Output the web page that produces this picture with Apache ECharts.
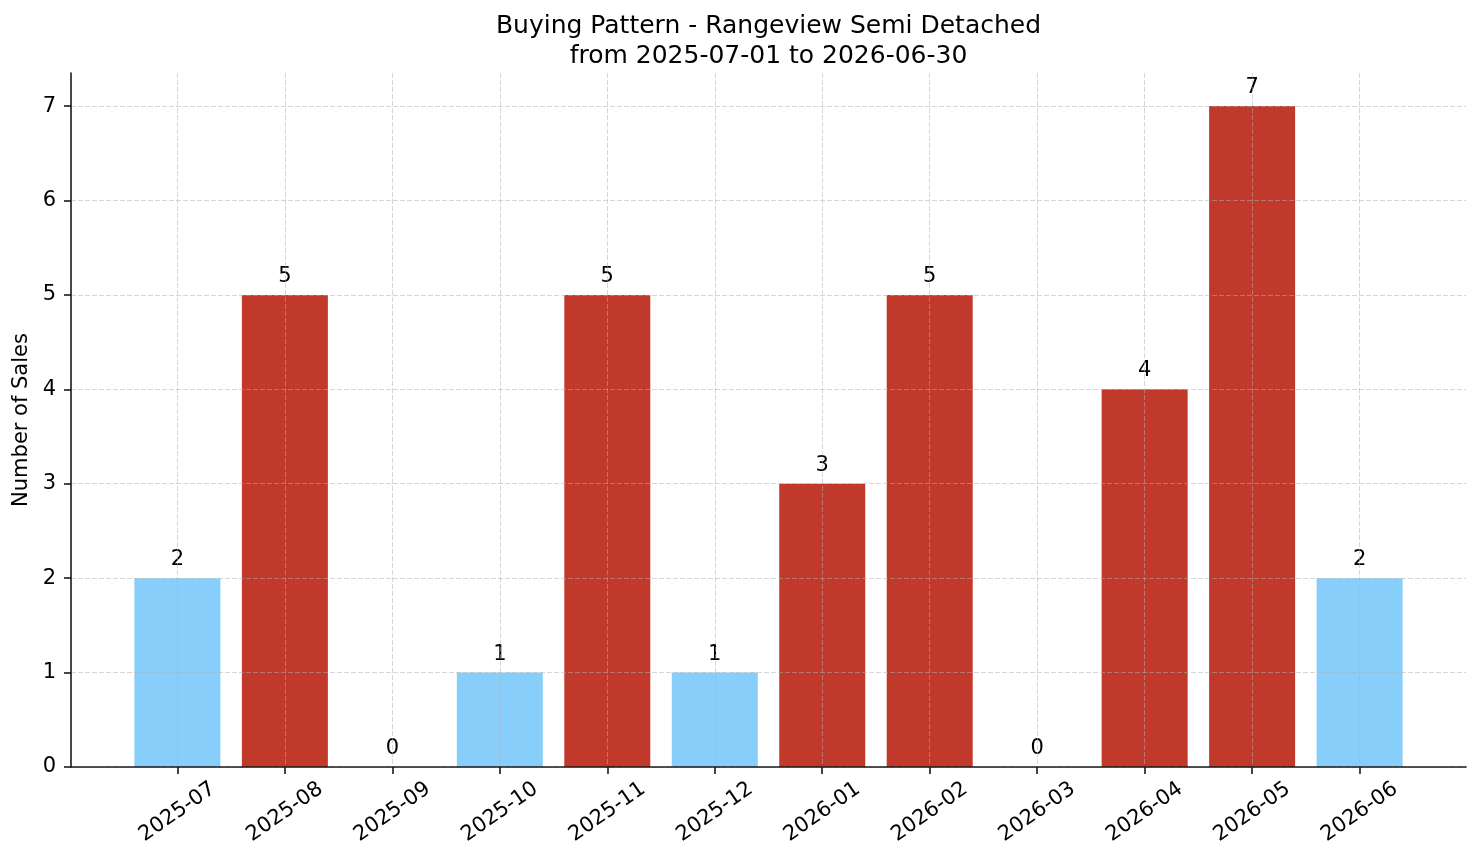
<!DOCTYPE html>
<html>
<head>
<meta charset="utf-8">
<script src="https://cdn.jsdelivr.net/npm/echarts@6/dist/echarts.min.js"></script>
<style>
  html, body { margin: 0; padding: 0; background: #fff; }
  #chart1 { width: 1481px; height: 863px; }
</style>
</head>
<body>
<div id="chart1"></div>
<script>
var months = ['2025-07', '2025-08', '2025-09', '2025-10', '2025-11', '2025-12',
              '2026-01', '2026-02', '2026-03', '2026-04', '2026-05', '2026-06'];
var sales = [2, 5, 0, 1, 5, 1, 3, 5, 0, 4, 7, 2];
var yTicks = [0, 1, 2, 3, 4, 5, 6, 7];

(function(){
    var font = 'DejaVu Sans';
    var idx = months.map(function(m, i){ return i; });

    var barData = sales.map(function(v, i){
        return {
            value: [i, v],
            itemStyle: { color: v >= 3 ? '#c0392b' : '#87cefa' }
        };
    });

    var chart1 = echarts.init(document.getElementById('chart1'));
    var option = {
        animation: false,
        backgroundColor: '#fff',
        // title centred over the plot area (71..1466), not the page
        graphic: [
            {
                type: 'text',
                x: 768.5,
                y: 11,
                style: {
                    text: 'Buying Pattern - Rangeview Semi Detached\nfrom 2025-07-01 to 2026-06-30',
                    fontFamily: font,
                    fontSize: 25,
                    fill: '#000',
                    lineHeight: 30,
                    textAlign: 'center',
                    textVerticalAlign: 'top'
                }
            }
        ],
        grid: {
            left: 71,
            right: 15,
            top: 73,
            bottom: 96
        },
        xAxis: {
            type: 'value',
            min: -0.99,
            max: 11.99,
            z: 3,
            axisLine: { show: true, onZero: false, lineStyle: { color: '#1a1a1a', width: 1.6 } },
            axisTick: {
                show: true,
                customValues: idx,
                length: 7,
                lineStyle: { color: '#1a1a1a', width: 1.6 }
            },
            axisLabel: {
                customValues: idx,
                rotate: 35,
                align: 'center',
                verticalAlign: 'middle',
                fontFamily: font,
                fontSize: 21,
                color: '#000',
                margin: 45,
                formatter: function(v){ return months[Math.round(v)]; }
            },
            splitLine: {
                show: true,
                lineStyle: { color: 'rgba(176,176,176,0.5)', type: [5, 2], width: 1 }
            }
        },
        yAxis: {
            type: 'value',
            min: 0,
            max: 7.35,
            z: 3,
            name: 'Number of Sales',
            nameLocation: 'middle',
            nameGap: 38,
            nameTextStyle: { fontFamily: font, fontSize: 21, color: '#000' },
            axisLine: { show: true, onZero: false, lineStyle: { color: '#1a1a1a', width: 1.6 } },
            axisTick: {
                show: true,
                customValues: yTicks,
                length: 7,
                lineStyle: { color: '#1a1a1a', width: 1.6 }
            },
            axisLabel: {
                customValues: yTicks,
                fontFamily: font,
                fontSize: 21,
                color: '#000',
                margin: 15
            },
            splitLine: {
                show: true,
                lineStyle: { color: 'rgba(176,176,176,0.5)', type: [5, 2], width: 1 }
            }
        },
        series: [
            {
                type: 'bar',
                data: barData,
                barWidth: 86,
                z: 2,
                label: {
                    show: true,
                    position: 'top',
                    distance: 8,
                    fontFamily: font,
                    fontSize: 21,
                    color: '#000',
                    formatter: function(p){ return p.value[1]; }
                }
            }
        ]
    };

    chart1.setOption(option);
})();
</script>
</body>
</html>
